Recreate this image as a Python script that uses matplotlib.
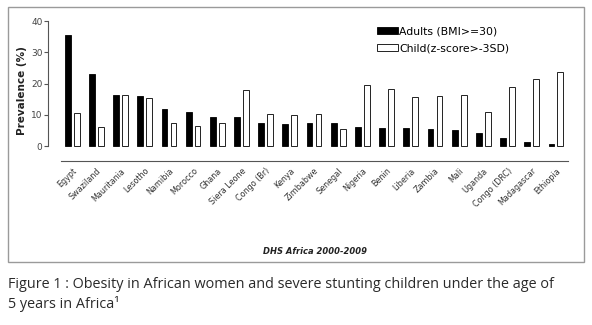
import matplotlib
matplotlib.use("Agg")
import matplotlib.pyplot as plt
from matplotlib.patches import Rectangle
import numpy as np

countries = ["Egypt", "Swaziland", "Mauritania", "Lesotho", "Namibia", "Morocco",
             "Ghana", "Siera Leone", "Congo (Br)", "Kenya", "Zimbabwe", "Senegal",
             "Nigeria", "Benin", "Liberia", "Zambia", "Mali", "Uganda",
             "Congo (DRC)", "Madagascar", "Ethiopia"]
adults = [35.5, 23.0, 16.4, 15.9, 11.7, 11.0, 9.4, 9.4, 7.5, 7.1, 7.3, 7.3,
          6.1, 5.8, 5.8, 5.5, 5.2, 4.1, 2.6, 1.3, 0.7]
child = [10.7, 6.0, 16.4, 15.3, 7.3, 6.3, 7.5, 17.8, 10.2, 9.9, 10.2, 5.3,
         19.5, 18.3, 15.6, 16.0, 16.3, 11.0, 18.8, 21.3, 23.8]
yticks = [0, 10, 20, 30, 40]

W, H = 592, 325
fig = plt.figure(figsize=(W / 100, H / 100), dpi=100)

# outer grey frame round the chart
fig.patches.append(Rectangle((8 / W, 1 - 262 / H), 576 / W, 255 / H,
                             transform=fig.transFigure, fill=False,
                             edgecolor='#9a9a9a', lw=1.0))

ax = fig.add_axes([48 / W, 1 - 160.7 / H, 520 / W, 139.7 / H])
x = np.arange(len(countries))
bw = 0.24
ax.bar(x - 0.185, adults, bw, color='black', edgecolor='black', lw=0.6,
       label='Adults (BMI>=30)')
ax.bar(x + 0.185, child, bw, color='white', edgecolor='#222222', lw=0.7,
       label='Child(z-score>-3SD)')

ax.set_xlim(-1.0, len(countries) - 0.5)
ax.set_ylim(-4.7, 40)
for s in ('top', 'right'):
    ax.spines[s].set_visible(False)
ax.spines['left'].set_bounds(0, 40)
ax.spines['bottom'].set_bounds(-0.48, len(countries) - 0.5)
for s in ('left', 'bottom'):
    ax.spines[s].set_color('#555555')
    ax.spines[s].set_linewidth(0.8)

ax.set_yticks(yticks)
ax.tick_params(axis='y', length=3, width=0.8, color='#555555', labelsize=6.5,
               labelcolor='#444444', pad=1)
ax.set_xticks(x)
ax.set_xticklabels(countries, rotation=45, ha='right', va='top',
                   rotation_mode='anchor', fontsize=5.8, color='#333333')
ax.tick_params(axis='x', length=0, pad=4)
ax.set_ylabel('Prevalence (%)', fontsize=7.5, fontweight='bold', color='#222222',
              labelpad=3)

ax.legend(loc='upper left', bbox_to_anchor=(0.625, 0.99), frameon=False,
          fontsize=7.8, handlelength=1.9, handleheight=0.6, handletextpad=0.1,
          labelspacing=0.6, borderaxespad=0)

fig.text(315 / W, 1 - 252 / H, 'DHS Africa 2000-2009', ha='center', va='center',
         fontsize=6, fontweight='bold', style='italic', color='#222222')

fig.text(8 / W, 1 - 285 / H,
         'Figure 1 : Obesity in African women and severe stunting children under the age of',
         ha='left', va='center', fontsize=10.4, family='Open Sans', color='#2a2a2a')
fig.text(8 / W, 1 - 304 / H, '5 years in Africa\u00b9',
         ha='left', va='center', fontsize=10.4, family='Open Sans', color='#2a2a2a')

fig.savefig('out.png', dpi=100)
